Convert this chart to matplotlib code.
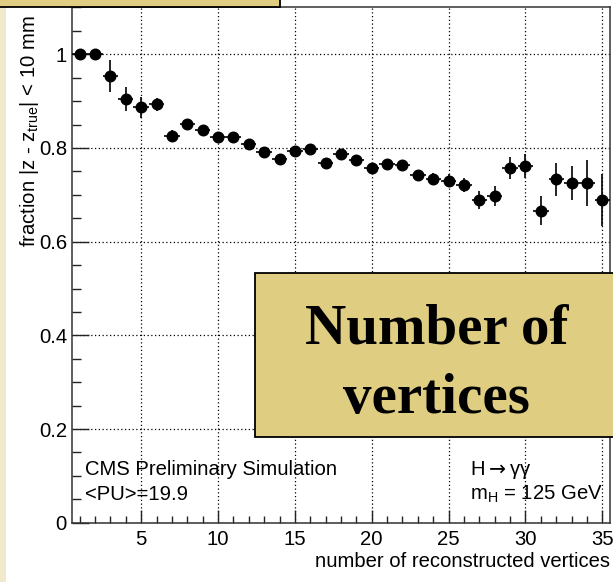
import numpy as np
import matplotlib
matplotlib.use('Agg')
import matplotlib.pyplot as plt
from matplotlib.patches import Rectangle
from matplotlib.ticker import MultipleLocator, FixedLocator

plt.rcParams['font.family'] = ['Liberation Sans', 'DejaVu Sans']
plt.rcParams['mathtext.fontset'] = 'custom'
plt.rcParams['mathtext.rm'] = 'Liberation Sans'
plt.rcParams['mathtext.it'] = 'Liberation Sans:italic'

#%% Efficiency vs number of vertices
n_vtx = np.arange(1, 36)
frac = [1.0, 1.0, 0.954, 0.905, 0.887, 0.893, 0.826, 0.851, 0.839, 0.824,
        0.824, 0.809, 0.791, 0.777, 0.794, 0.797, 0.767, 0.787, 0.774, 0.757,
        0.766, 0.763, 0.742, 0.733, 0.730, 0.721, 0.689, 0.698, 0.757, 0.762,
        0.666, 0.733, 0.725, 0.725, 0.689]
frac_err = [0.002, 0.003, 0.034, 0.026, 0.022, 0.014, 0.012, 0.010, 0.009, 0.008,
            0.008, 0.008, 0.008, 0.008, 0.009, 0.009, 0.009, 0.010, 0.010, 0.011,
            0.011, 0.012, 0.012, 0.013, 0.014, 0.015, 0.019, 0.021, 0.023, 0.026,
            0.031, 0.035, 0.036, 0.049, 0.055]

yticks = [0, 0.2, 0.4, 0.6, 0.8, 1.0]
ytick_labels = ['0', '0.2', '0.4', '0.6', '0.8', '1']
xticks = [5, 10, 15, 20, 25, 30, 35]

W, H = 613, 582
def px(x, y):
    # pixel position -> figure fraction
    return x / W, 1 - y / H

fig = plt.figure(figsize=(W / 100, H / 100), dpi=100, facecolor='w')
l, b = px(72, 522.7)
r, t = px(610, 7)
ax = fig.add_axes([l, b, r - l, t - b])

ax.errorbar(n_vtx, frac, yerr=frac_err, xerr=0.5, fmt='o', color='k',
            ms=7.6, elinewidth=1.2, capsize=0, zorder=3)

ax.set_xlim(0.5, 35.5)
ax.set_ylim(0, 1.101)
ax.set_yticks(yticks)
ax.set_yticklabels(ytick_labels)
ax.set_xticks(xticks)
ax.yaxis.set_minor_locator(MultipleLocator(0.05))
ax.xaxis.set_minor_locator(FixedLocator(np.arange(1, 36)))

ax.grid(True, which='major', color='k', linestyle=(0, (1, 2)), linewidth=0.9)
ax.set_axisbelow(True)
ax.tick_params(axis='y', which='major', direction='in', length=12.2, width=1,
               labelsize=14.6, pad=3.6, color='#222222')
ax.tick_params(axis='y', which='minor', direction='in', length=6.5, width=1,
               color='#222222')
ax.tick_params(axis='x', which='major', direction='in', length=9.4, width=1,
               labelsize=14.6, pad=5, color='#222222')
ax.tick_params(axis='x', which='minor', direction='in', length=5, width=1,
               color='#222222')
for s in ax.spines.values():
    s.set_color('#333333')
    s.set_linewidth(1.1)

# axis titles, ROOT style
fig.text(*px(29.5, 247), r'fraction |z - z$_{\mathrm{true}}$| < 10 mm',
         rotation=90, ha='center', va='bottom', fontsize=14.6)
fig.text(*px(610, 567), 'number of reconstructed vertices',
         ha='right', va='baseline', fontsize=14.6)

# labels inside the frame
fig.text(*px(85, 475), 'CMS Preliminary Simulation', fontsize=14.6, va='baseline')
fig.text(*px(85, 500), '<PU>=19.9', fontsize=14.6, va='baseline')
fig.text(*px(470, 475), r'H$\rightarrow$γγ', fontsize=14.6, va='baseline',
         math_fontfamily='dejavusans')
fig.text(*px(470, 500), r'm$_{\mathrm{H}}$ = 125 GeV', fontsize=14.6, va='baseline')

# slide decorations: cream strip, title bar and caption box
fig.add_artist(Rectangle((0, 0), 6 / W, 1, transform=fig.transFigure,
                         facecolor='#f1e9cc', edgecolor='none', zorder=0.5))
x0, y1 = px(-3, 6.5)
fig.add_artist(Rectangle((x0, y1), 283 / W, 10 / H, transform=fig.transFigure,
                         facecolor='#dfcd82', edgecolor='k', linewidth=1.3, zorder=1))
bx0, by0 = px(255, 437)
fig.add_artist(Rectangle((bx0, by0), 370 / W, (437 - 273) / H,
                         transform=fig.transFigure, facecolor='#dfcd82',
                         edgecolor='k', linewidth=1.3, zorder=1))
fig.text(*px(436.5, 343), 'Number of', ha='center', va='baseline',
         fontsize=41, fontweight='bold', family='Liberation Serif', zorder=4)
fig.text(*px(436.5, 413), 'vertices', ha='center', va='baseline',
         fontsize=41, fontweight='bold', family='Liberation Serif', zorder=4)

fig.savefig('out.png', dpi=100, facecolor='w')
